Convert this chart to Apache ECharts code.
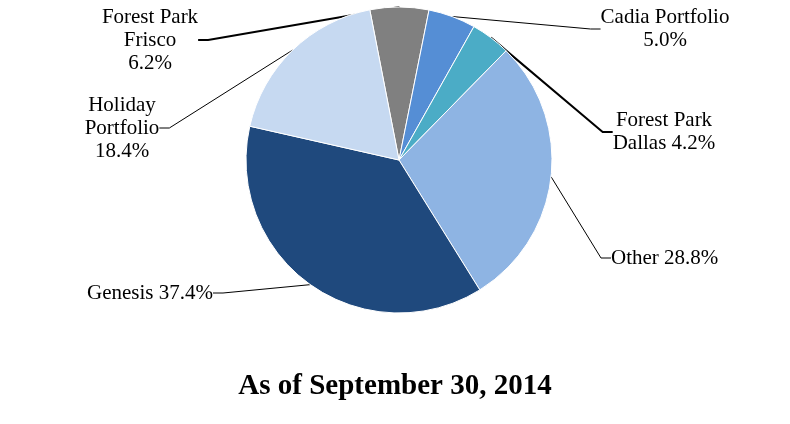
<!DOCTYPE html>
<html><head><meta charset="utf-8">
<script src="https://cdn.jsdelivr.net/npm/echarts@6/dist/echarts.min.js"></script>
<style>html,body{margin:0;padding:0;background:#fff}#c{width:790px;height:424px}</style>
</head><body><div id="c"></div>
<script>
const categories = ['Forest Park Frisco', 'Cadia Portfolio', 'Forest Park Dallas', 'Other', 'Genesis', 'Holiday Portfolio'];
const labelTexts = ['Forest Park\nFrisco\n', 'Cadia Portfolio\n', 'Forest Park\nDallas ', 'Other ', 'Genesis ', 'Holiday\nPortfolio\n'];
const values = [6.2, 5.0, 4.2, 28.8, 37.4, 18.4];
const colors = ['#808080', '#558ed5', '#4bacc6', '#8eb4e3', '#1f497d', '#c6d9f1'];
const titleText = 'As of September 30, 2014';

// label anchor positions (layout only): [x, y, align, verticalAlign]
const labelPos = [
  [150, 40, 'center', 'middle'],
  [665, 29, 'center', 'middle'],
  [664, 132, 'center', 'middle'],
  [611, 258, 'left', 'middle'],
  [213, 293, 'right', 'middle'],
  [122, 128, 'center', 'middle']
];
const thickLines = [true, false, true, false, false, false];

const chart = echarts.init(document.getElementById('c'), null, {renderer: 'canvas'});
chart.setOption({
  animation: false,
  title: {
    text: titleText, left: 'center', top: 367,
    textStyle: {fontFamily: 'Liberation Serif', fontWeight: 'bold', fontSize: 29, color: '#000'}
  },
  series: [{
    type: 'pie',
    center: [399, 160],
    radius: 153,
    startAngle: 101,
    clockwise: true,
    avoidLabelOverlap: false,
    itemStyle: {borderColor: '#fff', borderWidth: 1},
    label: {
      show: true,
      fontFamily: 'Liberation Serif',
      fontSize: 21,
      lineHeight: 23,
      color: '#000',
      formatter: p => labelTexts[p.dataIndex] + p.value.toFixed(1) + '%'
    },
    labelLine: {show: true, length: 10, length2: 10, smooth: false, lineStyle: {color: '#000', width: 1}},
    labelLayout: p => {
      const lp = labelPos[p.dataIndex];
      return {x: lp[0], y: lp[1], align: lp[2], verticalAlign: lp[3]};
    },
    data: categories.map((c, i) => ({
      name: c, value: values[i],
      itemStyle: {color: colors[i]},
      labelLine: {lineStyle: {width: thickLines[i] ? 2 : 1}}
    }))
  }]
});
</script></body></html>
